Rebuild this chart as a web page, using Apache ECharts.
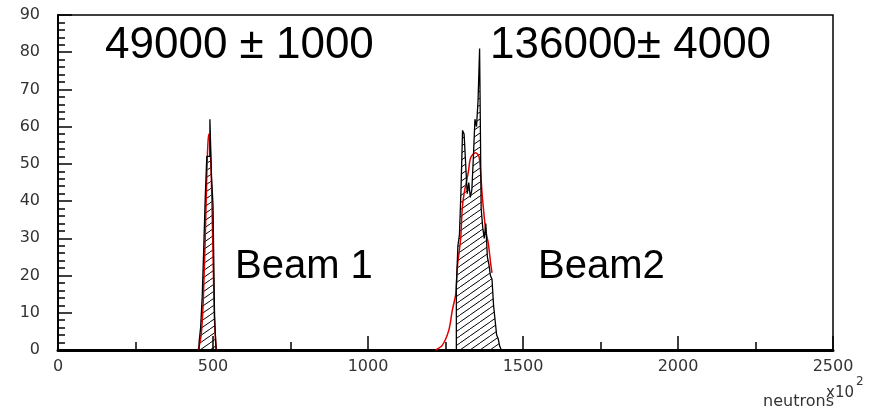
<!DOCTYPE html>
<html>
<head>
<meta charset="utf-8">
<script src="https://cdn.jsdelivr.net/npm/echarts@6/dist/echarts.min.js"></script>
<style>
  html, body { margin: 0; padding: 0; background: #fff; }
  #chart { width: 869px; height: 414px; }
</style>
</head>
<body>
<div id="chart"></div>
<script>
// histogram bins (x10^2 neutrons), bin width 5
const binWidth = 5;
const beam1Start = 455;
const beam1Counts = [2, 6, 14, 27, 41, 52, 52, 62, 47, 39, 9];
const beam2Start = 1285;
const beam2Counts = [17, 28, 31, 43, 59, 58, 50, 42, 45, 41, 43, 52, 62, 60, 67, 81,
  38, 33, 30, 34, 25, 23, 20, 19, 12, 8, 4, 3, 1];

// fitted curves [x, y]
const beam1Fit = [[452, 0], [458, 2], [463, 5], [468, 12], [472, 22], [475, 30], [478, 40],
  [481, 50], [484, 56], [487, 58], [490, 56], [493, 50], [496, 42], [499, 30], [502, 18],
  [505, 8], [508, 3], [511, 0]];
const beam2Fit = [[1218, 0], [1240, 1.3], [1261, 5.4], [1272, 10.7], [1283, 15], [1288, 22],
  [1299, 30], [1304, 38], [1310, 42], [1324, 48], [1331, 51.6], [1347, 53], [1358, 52],
  [1363, 48], [1369, 41], [1380, 32], [1388, 28.7], [1396, 23], [1400, 20.7]];

const xTicks = [0, 500, 1000, 1500, 2000, 2500];
const yTicks = [0, 10, 20, 30, 40, 50, 60, 70, 80, 90];

// step outline of a histogram: left/right edge of every bin
function stepPoints(start, counts) {
  const pts = [[start, 0]];
  counts.forEach((c, i) => {
    pts.push([start + i * binWidth, c]);
    pts.push([start + (i + 1) * binWidth, c]);
  });
  pts.push([start + counts.length * binWidth, 0]);
  return pts;
}

function hatch() {
  const c = document.createElement('canvas');
  c.width = 10; c.height = 7;
  const g = c.getContext('2d');
  g.strokeStyle = '#000';
  g.lineWidth = 1;
  g.beginPath();
  g.moveTo(-10, 14); g.lineTo(20, -7);
  g.stroke();
  return c;
}
const pattern = { image: hatch(), repeat: 'repeat' };

const labelFont = { fontFamily: 'DejaVu Sans', fontSize: 16, color: '#333' };

function histFill(start, counts) {
  return {
    type: 'line', data: stepPoints(start, counts), symbol: 'none',
    lineStyle: { width: 0 },
    areaStyle: { color: pattern, opacity: 1 },
    z: 2
  };
}
function histLine(start, counts) {
  return {
    type: 'line', data: stepPoints(start, counts), symbol: 'none',
    lineStyle: { color: '#000', width: 1.3 },
    z: 4
  };
}
function fitSeries(data) {
  return {
    type: 'line', data: data, smooth: 0.3, symbol: 'none',
    lineStyle: { color: '#e00000', width: 1.5 },
    z: 3
  };
}

const chart = echarts.init(document.getElementById('chart'));
chart.setOption({
  animation: false,
  grid: { left: 58, right: 36, top: 15, bottom: 64, show: true, borderColor: '#000', borderWidth: 1.5 },
  xAxis: {
    type: 'value', min: 0, max: 2500, interval: 500,
    axisLine: { lineStyle: { color: '#000', width: 3 } },
    axisTick: { inside: true, length: 14, lineStyle: { color: '#000', width: 1.5 } },
    minorTick: { show: true, splitNumber: 2, length: 8, lineStyle: { color: '#000', width: 1.5 } },
    splitLine: { show: false },
    axisLabel: Object.assign({ margin: 9, formatter: v => xTicks.includes(v) ? String(v) : '' }, labelFont)
  },
  yAxis: {
    type: 'value', min: 0, max: 90, interval: 10,
    axisLine: { lineStyle: { color: '#000', width: 2 } },
    axisTick: { inside: true, length: 14, lineStyle: { color: '#000', width: 1.5 } },
    minorTick: { show: true, splitNumber: 5, length: 7, lineStyle: { color: '#000', width: 1.5 } },
    splitLine: { show: false },
    axisLabel: Object.assign({ margin: 18, formatter: v => yTicks.includes(v) ? String(v) : '' }, labelFont)
  },
  series: [
    histFill(beam1Start, beam1Counts),
    histFill(beam2Start, beam2Counts),
    fitSeries(beam1Fit),
    fitSeries(beam2Fit),
    histLine(beam1Start, beam1Counts),
    histLine(beam2Start, beam2Counts)
  ],
  graphic: [
    { type: 'text', style: { x: 105, y: 46, text: '49000 ± 1000', font: '44px "Liberation Sans"', fill: '#000', verticalAlign: 'middle' } },
    { type: 'text', style: { x: 490, y: 46, text: '136000± 4000', font: '44px "Liberation Sans"', fill: '#000', verticalAlign: 'middle' } },
    { type: 'text', style: { x: 235, y: 267, text: 'Beam 1', font: '40px "Liberation Sans"', fill: '#000', verticalAlign: 'middle' } },
    { type: 'text', style: { x: 538, y: 267, text: 'Beam2', font: '40px "Liberation Sans"', fill: '#000', verticalAlign: 'middle' } },
    { type: 'text', style: { x: 834, y: 402, text: 'neutrons', font: '16px "DejaVu Sans"', fill: '#333', align: 'right', verticalAlign: 'middle' } },
    { type: 'text', style: { x: 826, y: 393, text: 'x10', font: '15px "DejaVu Sans"', fill: '#333', verticalAlign: 'middle' } },
    { type: 'text', style: { x: 856, y: 382, text: '2', font: '12px "DejaVu Sans"', fill: '#333', verticalAlign: 'middle' } }
  ]
});
</script>
</body>
</html>
